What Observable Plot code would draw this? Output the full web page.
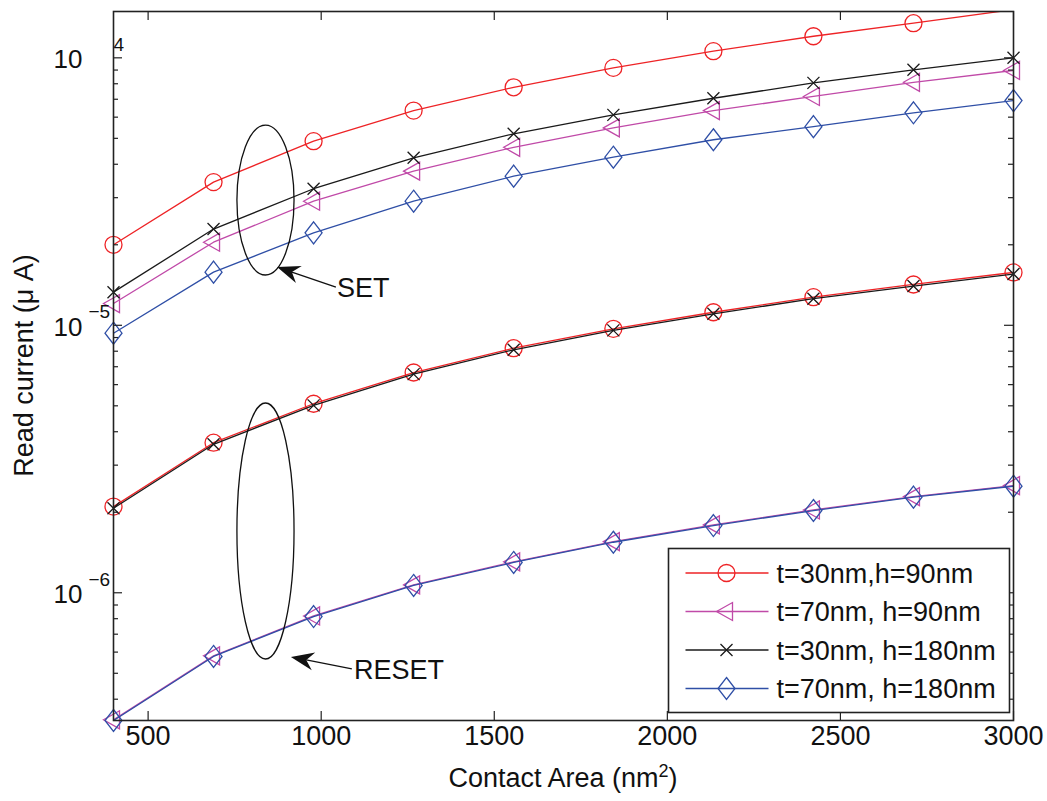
<!DOCTYPE html>
<html><head><meta charset="utf-8">
<script src="https://cdn.jsdelivr.net/npm/d3@7"></script>
<script src="https://cdn.jsdelivr.net/npm/@observablehq/plot@0.6"></script>
<style>
body{margin:0;background:#fff}
#chart{position:relative;width:1047px;height:801px}
svg{font-family:"Liberation Sans",Arial,Helvetica,sans-serif}
</style>
</head><body><div id="chart"></div>
<script>
// ---- data ----
const area = [400, 689, 978, 1267, 1556, 1844, 2133, 2422, 2711, 3000];
const setT30H90   = [2.0e-5, 3.43e-5, 4.88e-5, 6.35e-5, 7.76e-5, 9.17e-5, 1.059e-4, 1.204e-4, 1.347e-4, 1.515e-4];
const setT70H90   = [1.206e-5, 2.045e-5, 2.91e-5, 3.77e-5, 4.63e-5, 5.47e-5, 6.35e-5, 7.17e-5, 8.10e-5, 8.97e-5];
const setT30H180  = [1.33e-5, 2.29e-5, 3.24e-5, 4.23e-5, 5.20e-5, 6.12e-5, 7.06e-5, 8.06e-5, 9.02e-5, 1.0e-4];
const setT70H180  = [9.34e-6, 1.58e-5, 2.217e-5, 2.91e-5, 3.61e-5, 4.25e-5, 4.94e-5, 5.53e-5, 6.23e-5, 6.92e-5];
const resetT30H90  = [2.10e-6, 3.64e-6, 5.09e-6, 6.66e-6, 8.21e-6, 9.70e-6, 1.119e-5, 1.274e-5, 1.421e-5, 1.576e-5];
const resetT70H90  = [3.35e-7, 5.81e-7, 8.19e-7, 1.070e-6, 1.305e-6, 1.553e-6, 1.793e-6, 2.04e-6, 2.288e-6, 2.515e-6];
const resetT30H180 = [2.07e-6, 3.59e-6, 5.02e-6, 6.57e-6, 8.10e-6, 9.57e-6, 1.104e-5, 1.257e-5, 1.402e-5, 1.555e-5];
const resetT70H180 = [3.33e-7, 5.78e-7, 8.15e-7, 1.065e-6, 1.298e-6, 1.545e-6, 1.784e-6, 2.03e-6, 2.277e-6, 2.503e-6];

const legendLabels = ["t=30nm,h=90nm", "t=70nm, h=90nm", "t=30nm, h=180nm", "t=70nm, h=180nm"];

const xDomain = [400, 3000];
const yDomain = [3.33e-7, 1.49e-4];
const xTicks = [500, 1000, 1500, 2000, 2500, 3000];
const yMajor = [1e-4, 1e-5, 1e-6];
const yBase = ["10", "10", "10"];
const yExp = ["4", "\u22125", "\u22126"];
const yMinor = [4e-7, 5e-7, 6e-7, 7e-7, 8e-7, 9e-7,
  2e-6, 3e-6, 4e-6, 5e-6, 6e-6, 7e-6, 8e-6, 9e-6,
  2e-5, 3e-5, 4e-5, 5e-5, 6e-5, 7e-5, 8e-5, 9e-5];

// annotation anchors (data units)
const setEllipse = {x1: 758, x2: 923, y1: 1.535e-5, y2: 5.58e-5};
const resetEllipse = {x1: 758, x2: 923, y1: 5.63e-7, y2: 5.10e-6};
const setArrow = {x1: 1044, y1: 1.384e-5, x2: 874, y2: 1.645e-5};
const resetArrow = {x1: 1090, y1: 5.17e-7, x2: 914, y2: 5.73e-7};
const setLabel = {x: 1047, y: 1.373e-5, text: "SET"};
const resetLabel = {x: 1096, y: 5.14e-7, text: "RESET"};

// ---- styles ----
const C = {red: "#ee2326", mag: "#c04aa8", blk: "#1a1a1a", blu: "#2f4fa6"};
const symbols = {
  circle: {draw(c){ c.moveTo(8.5,0); c.arc(0,0,8.5,0,2*Math.PI); c.closePath(); }},
  tri: {draw(c){ c.moveTo(-10,0); c.lineTo(6,-9); c.lineTo(6,9); c.closePath(); }},
  times: {draw(c){ c.moveTo(-6,-6); c.lineTo(6,6); c.moveTo(-6,6); c.lineTo(6,-6); }},
  diamond: {draw(c){ c.moveTo(0,-11); c.lineTo(8.5,0); c.lineTo(0,11); c.lineTo(-8.5,0); c.closePath(); }}
};

const seriesDefs = [
  {vals: setT30H90, color: C.red, sym: "circle"},
  {vals: setT70H90, color: C.mag, sym: "tri"},
  {vals: setT30H180, color: C.blk, sym: "times"},
  {vals: setT70H180, color: C.blu, sym: "diamond"},
  {vals: resetT30H90, color: C.red, sym: "circle"},
  {vals: resetT70H90, color: C.mag, sym: "tri"},
  {vals: resetT30H180, color: C.blk, sym: "times"},
  {vals: resetT70H180, color: C.blu, sym: "diamond"}
];
const legendDefs = [
  {color: C.red, sym: "circle"}, {color: C.mag, sym: "tri"},
  {color: C.blk, sym: "times"}, {color: C.blu, sym: "diamond"}
];

const W = 1047, H = 801, ML = 113, MR = 34, MT = 11, MB = 81;
const FONT = 27;

const marks = [];
for (const s of seriesDefs) {
  const rows = area.map((x, i) => ({x, y: s.vals[i]}));
  marks.push(Plot.line(rows, {x: "x", y: "y", stroke: s.color, strokeWidth: 1.3, clip: true}));
  marks.push(Plot.dot(rows, {x: "x", y: "y", stroke: s.color, strokeWidth: 1.3, fill: "none",
    symbol: symbols[s.sym], r: 5,
    filter: d => d.y >= yDomain[0] && d.y <= yDomain[1]}));
}

const pw = W - ML - MR, ph = H - MT - MB;
const tickCol = "#222";
marks.push(
  Plot.tickX(xTicks, {x: d => d, insetTop: ph - 9, stroke: tickCol, strokeWidth: 1.2}),
  Plot.tickX(xTicks, {x: d => d, insetBottom: ph - 9, stroke: tickCol, strokeWidth: 1.2}),
  Plot.tickY(yMajor, {y: d => d, insetRight: pw - 9, stroke: tickCol, strokeWidth: 1.2}),
  Plot.tickY(yMajor, {y: d => d, insetLeft: pw - 9, stroke: tickCol, strokeWidth: 1.2}),
  Plot.tickY(yMinor, {y: d => d, insetRight: pw - 5, stroke: tickCol, strokeWidth: 1.2}),
  Plot.tickY(yMinor, {y: d => d, insetLeft: pw - 5, stroke: tickCol, strokeWidth: 1.2}),
  Plot.text(xTicks, {x: d => d, frameAnchor: "bottom", dy: 24, text: d => String(d), fontSize: FONT, fill: "#111"}),
  Plot.text(yMajor, {y: d => d, frameAnchor: "left", dx: -31, dy: 2, textAnchor: "end", text: (d, i) => yBase[i], fontSize: 26, fill: "#111"}),
  Plot.text(yMajor.slice(1), {y: d => d, frameAnchor: "left", dx: -25, dy: -13, textAnchor: "start", text: (d, i) => yExp[i + 1], fontSize: 19, fill: "#111"}),
  Plot.text(yMajor.slice(0, 1), {y: d => d, frameAnchor: "left", dx: 0, dy: -13, textAnchor: "start", text: (d, i) => yExp[i], fontSize: 19, fill: "#111"}),
  Plot.frame({stroke: tickCol, strokeWidth: 1.6})
);

// annotations, titles and legend
marks.push((index, scales) => {
  const sx = scales.x, sy = scales.y;
  const g = d3.create("svg:g");
  for (const e of [setEllipse, resetEllipse]) {
    const x1 = sx(e.x1), x2 = sx(e.x2), ya = sy(e.y1), yb = sy(e.y2);
    g.append("ellipse").attr("cx", (x1 + x2) / 2).attr("cy", (ya + yb) / 2)
      .attr("rx", Math.abs(x2 - x1) / 2).attr("ry", Math.abs(ya - yb) / 2)
      .attr("fill", "none").attr("stroke", "#111").attr("stroke-width", 1.3);
  }
  for (const a of [setArrow, resetArrow]) {
    const tx = sx(a.x2), ty = sy(a.y2), fx = sx(a.x1), fy = sy(a.y1);
    const len = Math.hypot(tx - fx, ty - fy), ux = (tx - fx) / len, uy = (ty - fy) / len;
    const nx = -uy, ny = ux, L = 23, Wd = 9;
    const bx = tx - L * ux, by = ty - L * uy, mx = tx - 0.68 * L * ux, my = ty - 0.68 * L * uy;
    g.append("line").attr("x1", fx).attr("y1", fy).attr("x2", mx).attr("y2", my)
      .attr("stroke", "#111").attr("stroke-width", 1.3);
    g.append("path").attr("d", `M${tx},${ty}L${bx + Wd * nx},${by + Wd * ny}L${mx},${my}L${bx - Wd * nx},${by - Wd * ny}Z`)
      .attr("fill", "#111");
  }
  for (const t of [setLabel, resetLabel]) {
    g.append("text").attr("x", sx(t.x)).attr("y", sy(t.y)).attr("dy", "0.35em")
      .attr("text-anchor", "start")
      .attr("font-size", FONT).attr("fill", "#111").text(t.text);
  }
  // x title
  const xt = g.append("text").attr("x", (ML + W - MR) / 2).attr("y", 787).attr("text-anchor", "middle")
    .attr("font-size", FONT).attr("fill", "#111");
  xt.append("tspan").text("Contact Area (nm");
  xt.append("tspan").attr("font-size", 18).attr("dy", -10).text("2");
  xt.append("tspan").attr("dy", 10).text(")");
  // y title
  g.append("text").attr("transform", `translate(33,${(MT + H - MB) / 2}) rotate(-90)`)
    .attr("text-anchor", "middle").attr("font-size", FONT).attr("fill", "#111").text("Read current (\u03bc A)");
  // legend
  const lx = 668.5, ly = 548.5, lw = 341, lh = 164;
  const lg = g.append("g");
  lg.append("rect").attr("x", lx).attr("y", ly).attr("width", lw).attr("height", lh)
    .attr("fill", "#fff").attr("stroke", "#222").attr("stroke-width", 1.6);
  legendDefs.forEach((d, i) => {
    const ry = ly + 24.5 + i * 38.5;
    lg.append("line").attr("x1", lx + 17).attr("x2", lx + 100).attr("y1", ry).attr("y2", ry)
      .attr("stroke", d.color).attr("stroke-width", 1.3);
    const p = d3.path(); symbols[d.sym].draw(p);
    lg.append("path").attr("d", p.toString()).attr("transform", `translate(${lx + 58},${ry})`)
      .attr("fill", "none").attr("stroke", d.color).attr("stroke-width", 1.3);
    lg.append("text").attr("x", lx + 108).attr("y", ry).attr("dy", "0.36em")
      .attr("text-anchor", "start")
      .attr("font-size", FONT).attr("fill", "#111").text(legendLabels[i]);
  });
  return g.node();
});

const chart = Plot.plot({
  width: W, height: H,
  marginLeft: ML, marginRight: MR, marginTop: MT, marginBottom: MB,
  style: {fontFamily: '"Liberation Sans", Arial, Helvetica, sans-serif', background: "#fff"},
  x: {domain: xDomain, axis: null},
  y: {type: "log", domain: yDomain, axis: null},
  marks
});
document.getElementById("chart").appendChild(chart);
</script>
</body></html>
